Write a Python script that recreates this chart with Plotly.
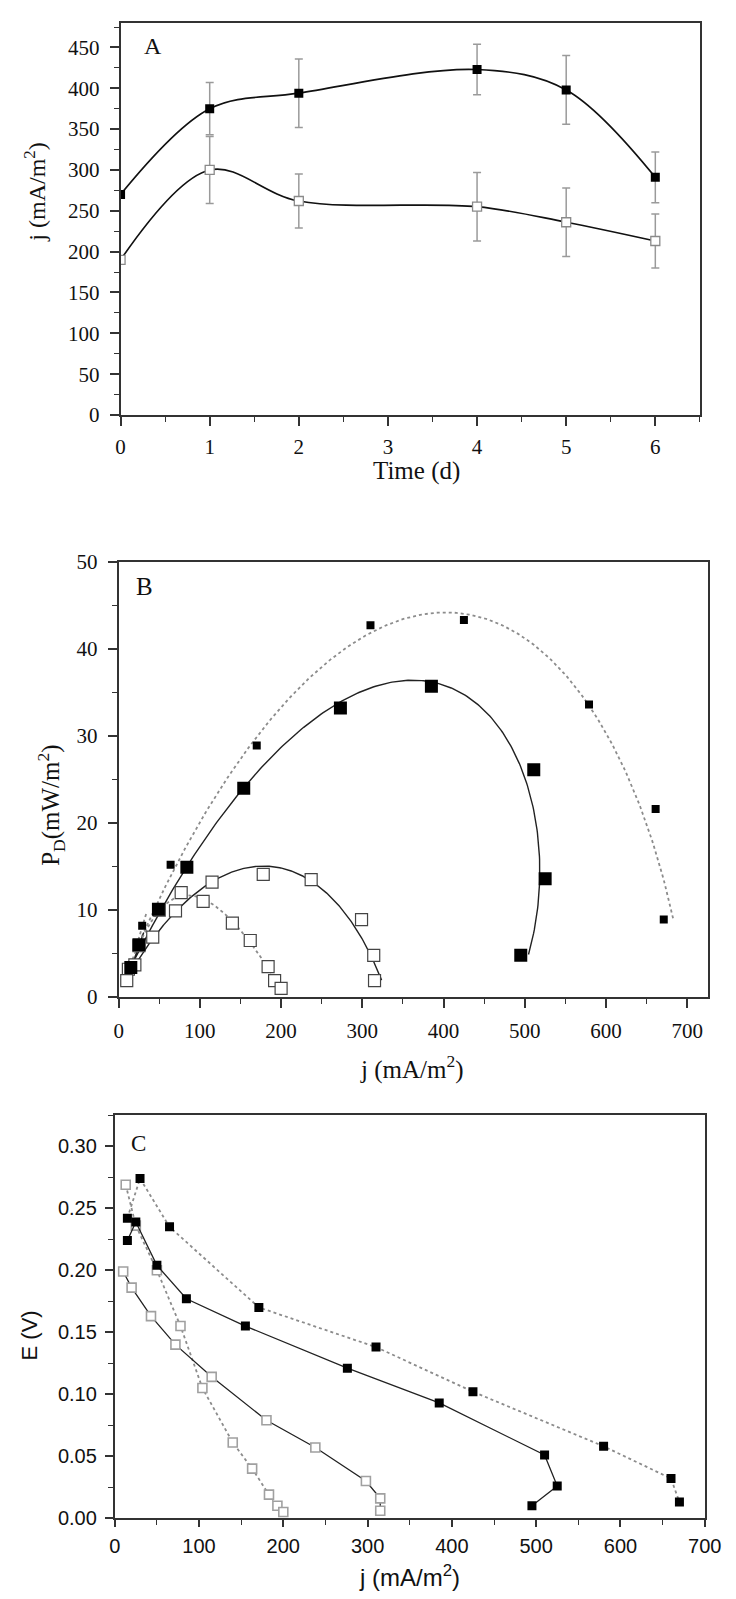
import numpy as np
import plotly.graph_objects as go

# ---------------- data ----------------
# Panel A: current density vs time
time_d = [0, 1, 2, 4, 5, 6]
jA_filled = [270, 375, 394, 423, 398, 291]
jA_filled_err = [0, 32, 42, 31, 42, 31]
jA_open = [190, 300, 262, 255, 236, 213]
jA_open_err = [0, 41, 33, 42, 42, 33]

# Panel B: power density vs current density
jB_big = [15, 25, 49, 84, 154, 273, 385, 511, 525, 495]
PB_big = [3.4, 6.0, 10.1, 14.9, 24.0, 33.2, 35.7, 26.1, 13.6, 4.8]
jB_small = [15, 29, 64, 170, 310, 425, 579, 661, 671]
PB_small = [3.6, 8.2, 15.2, 28.9, 42.7, 43.3, 33.6, 21.6, 8.9]
jB_open_solid = [10, 20, 42, 70, 115, 178, 237, 299, 314, 315]
PB_open_solid = [1.9, 3.7, 6.9, 9.9, 13.2, 14.1, 13.5, 8.9, 4.8, 1.9]
jB_open_dot = [12, 25, 50, 77, 104, 140, 162, 184, 192, 200]
PB_open_dot = [3.2, 5.9, 10.0, 12.0, 11.0, 8.5, 6.5, 3.5, 1.9, 1.0]

# Panel C: cell voltage vs current density
jC_filled_dot = [15, 30, 65, 171, 310, 425, 580, 660, 670]
EC_filled_dot = [0.242, 0.274, 0.235, 0.170, 0.138, 0.102, 0.058, 0.032, 0.013]
jC_filled_solid = [15, 25, 50, 85, 155, 276, 385, 510, 525, 495]
EC_filled_solid = [0.224, 0.239, 0.204, 0.177, 0.155, 0.121, 0.093, 0.051, 0.026, 0.010]
jC_open_solid = [10, 20, 43, 72, 115, 180, 238, 298, 315, 315]
EC_open_solid = [0.199, 0.186, 0.163, 0.140, 0.114, 0.079, 0.057, 0.030, 0.016, 0.006]
jC_open_dot = [13, 25, 50, 78, 104, 140, 163, 183, 193, 200]
EC_open_dot = [0.269, 0.236, 0.200, 0.155, 0.105, 0.061, 0.040, 0.019, 0.010, 0.005]

# ---------------- layout helpers ----------------
W, H = 736, 1599
SERIF = "Liberation Serif, Times New Roman, serif"
SANS = "Liberation Sans, Arial, sans-serif"
AXC = "#333333"


def dom_x(x0, x1):
    return [x0 / W, x1 / W]


def dom_y(top, bottom):
    return [1 - bottom / H, 1 - top / H]


def fit_curve(j, P, deg=3, n=300):
    # smooth trend: j fitted as a cubic of E = P / j, then P = j * E
    j = np.asarray(j, float)
    P = np.asarray(P, float)
    E = P / j
    c = np.polyfit(E, j, deg)
    Es = np.linspace(E.min(), E.max(), n)
    js = np.polyval(c, Es)
    return js, js * Es


fig = go.Figure()

# ---------- Panel A ----------
fig.add_trace(go.Scatter(
    x=time_d, y=jA_open, mode="lines+markers", xaxis="x", yaxis="y",
    line=dict(color="#111111", width=1.7, shape="spline", smoothing=1.0),
    marker=dict(symbol="square", size=9, color="white", line=dict(color="#8a8a8a", width=1.3)),
    error_y=dict(type="data", array=jA_open_err, color="#9a9a9a", thickness=1.5, width=4),
))
fig.add_trace(go.Scatter(
    x=time_d, y=jA_filled, mode="lines+markers", xaxis="x", yaxis="y",
    line=dict(color="#111111", width=1.7, shape="spline", smoothing=1.0),
    marker=dict(symbol="square", size=9, color="black", line=dict(color="black", width=0)),
    error_y=dict(type="data", array=jA_filled_err, color="#9a9a9a", thickness=1.5, width=4),
))

# ---------- Panel B ----------
for (jj, pp, dash, col) in [
    (jB_small, PB_small, "dot", "#8c8c8c"),
    (jB_big, PB_big, "solid", "#222222"),
    (jB_open_solid, PB_open_solid, "solid", "#222222"),
    (jB_open_dot, PB_open_dot, "dot", "#8c8c8c"),
]:
    cx, cy = fit_curve(jj, pp)
    fig.add_trace(go.Scatter(x=cx, y=cy, mode="lines", xaxis="x2", yaxis="y2",
                             line=dict(color=col, width=1.8 if dash == "dot" else 1.4, dash=dash)))

fig.add_trace(go.Scatter(x=jB_open_dot, y=PB_open_dot, mode="markers", xaxis="x2", yaxis="y2",
                         marker=dict(symbol="square", size=12, color="white",
                                     line=dict(color="#444444", width=1.2))))
fig.add_trace(go.Scatter(x=jB_open_solid, y=PB_open_solid, mode="markers", xaxis="x2", yaxis="y2",
                         marker=dict(symbol="square", size=12, color="white",
                                     line=dict(color="#444444", width=1.2))))
fig.add_trace(go.Scatter(x=jB_big, y=PB_big, mode="markers", xaxis="x2", yaxis="y2",
                         marker=dict(symbol="square", size=13, color="black", line=dict(width=0))))
fig.add_trace(go.Scatter(x=jB_small, y=PB_small, mode="markers", xaxis="x2", yaxis="y2",
                         marker=dict(symbol="square", size=8, color="black", line=dict(width=0))))

# ---------- Panel C ----------
fig.add_trace(go.Scatter(x=jC_open_dot, y=EC_open_dot, mode="lines+markers", xaxis="x3", yaxis="y3",
                         line=dict(color="#8c8c8c", width=1.8, dash="dot"),
                         marker=dict(symbol="square", size=9, color="white",
                                     line=dict(color="#a0a0a0", width=1.6))))
fig.add_trace(go.Scatter(x=jC_open_solid, y=EC_open_solid, mode="lines+markers", xaxis="x3", yaxis="y3",
                         line=dict(color="#222222", width=1.3),
                         marker=dict(symbol="square", size=9, color="white",
                                     line=dict(color="#a0a0a0", width=1.6))))
fig.add_trace(go.Scatter(x=jC_filled_dot, y=EC_filled_dot, mode="lines+markers", xaxis="x3", yaxis="y3",
                         line=dict(color="#8c8c8c", width=1.8, dash="dot"),
                         marker=dict(symbol="square", size=9, color="black", line=dict(width=0))))
fig.add_trace(go.Scatter(x=jC_filled_solid, y=EC_filled_solid, mode="lines+markers", xaxis="x3", yaxis="y3",
                         line=dict(color="#222222", width=1.3),
                         marker=dict(symbol="square", size=9, color="black", line=dict(width=0))))


def axis(domain, rng, dtick, minor_dtick, font, size, anchor, fmt=None, ticklen=9, standoff=5):
    d = dict(domain=domain, range=rng, dtick=dtick, tick0=0, anchor=anchor,
             showline=True, linecolor=AXC, linewidth=1.8, mirror=True,
             ticks="outside", ticklen=ticklen, tickwidth=1.6, tickcolor=AXC,
             showgrid=False, zeroline=False,
             tickfont=dict(family=font, size=size, color="#111111"),
             ticklabelstandoff=standoff,
             minor=dict(dtick=minor_dtick, tick0=0, ticks="outside", ticklen=5,
                        tickwidth=1.3, tickcolor=AXC, showgrid=False))
    if fmt:
        d["tickformat"] = fmt
    return d


fig.update_layout(
    width=W, height=H, margin=dict(l=0, r=0, t=0, b=0),
    paper_bgcolor="white", plot_bgcolor="white", showlegend=False,
    xaxis=axis(dom_x(110, 708), [0, 6.5], 1, 0.5, SERIF, 21, "y", standoff=3),
    yaxis=axis(dom_y(3, 401), [0, 480], 50, 25, SERIF, 21, "x", standoff=6),
    xaxis2=axis(dom_x(108, 716), [0, 725], 100, 50, SERIF, 21, "y2", standoff=5),
    yaxis2=axis(dom_y(550, 992), [0, 50], 10, 5, SERIF, 21, "x2", standoff=6),
    xaxis3=axis(dom_x(104, 713), [0, 700], 100, 50, SANS, 20, "y3", ticklen=7, standoff=2),
    yaxis3=axis(dom_y(1112, 1521), [0, 0.325], 0.05, 0.025, SANS, 20, "x3", fmt=".2f", ticklen=8, standoff=4),
)


def ann(text, x, y, font, size, angle=0, xanchor="center", yanchor="middle"):
    fig.add_annotation(text=text, x=x / W, y=1 - y / H, xref="paper", yref="paper",
                       showarrow=False, textangle=angle, xanchor=xanchor, yanchor=yanchor,
                       font=dict(family=font, size=size, color="#111111"))


# panel letters
ann("A", 143, 26, SERIF, 24)
ann("B", 135, 575, SERIF, 25)
ann("C", 128, 1141, SERIF, 23)

# axis titles
ann("j (mA/m<sup>2</sup>)", 22, 175, SERIF, 24, angle=-90)
ann("Time (d)", 415, 458, SERIF, 25)
ann("P<sub>D</sub>(mW/m<sup>2</sup>)", 38, 797, SERIF, 25, angle=-90)
ann("j (mA/m<sup>2</sup>)", 411, 1063, SERIF, 25)
ann("E (V)", 16, 1336, SANS, 22, angle=-90)
ann("j (mA/m<sup>2</sup>)", 408, 1580, SANS, 24)

fig.write_html("out.html")
